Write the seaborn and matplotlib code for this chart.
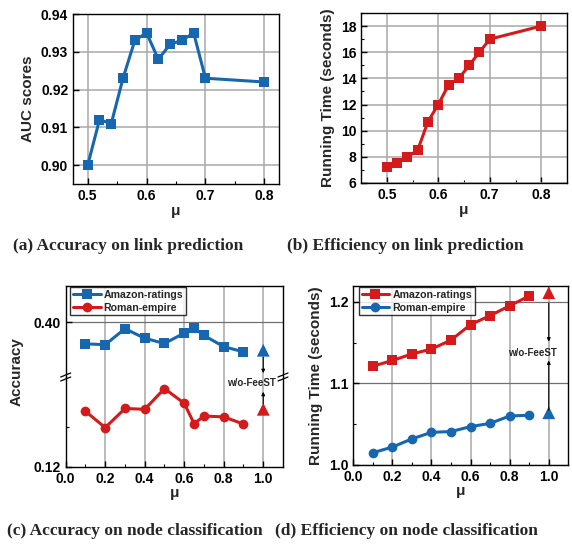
import matplotlib
matplotlib.use("Agg")
import matplotlib.pyplot as plt
from matplotlib.ticker import FixedLocator, MultipleLocator
from matplotlib.lines import Line2D
import seaborn as sns

# ---------------- data ----------------
mu_link = [0.50, 0.52, 0.54, 0.56, 0.58, 0.60, 0.62, 0.64, 0.66, 0.68, 0.70, 0.80]
auc_link = [0.900, 0.912, 0.911, 0.923, 0.933, 0.935, 0.928, 0.932, 0.933, 0.935, 0.923, 0.922]
time_link = [7.2, 7.5, 8.0, 8.5, 10.7, 12.0, 13.5, 14.0, 15.0, 16.0, 17.0, 18.0]

mu_acc = [0.1, 0.2, 0.3, 0.4, 0.5, 0.6, 0.65, 0.7, 0.8, 0.9]
acc_amazon = [0.3946, 0.3944, 0.3984, 0.3960, 0.3947, 0.3973, 0.3986, 0.3967, 0.3939, 0.3926]
acc_roman = [0.1339, 0.1298, 0.1346, 0.1344, 0.1396, 0.1359, 0.1308, 0.1327, 0.1325, 0.1307]
acc_amazon_wo = 0.3930
acc_roman_wo = 0.1344

mu_time = [0.1, 0.2, 0.3, 0.4, 0.5, 0.6, 0.7, 0.8, 0.9]
time_amazon = [1.121, 1.128, 1.136, 1.142, 1.153, 1.172, 1.183, 1.195, 1.207]
time_roman = [1.015, 1.022, 1.032, 1.040, 1.041, 1.047, 1.051, 1.060, 1.061]
time_amazon_wo = 1.211
time_roman_wo = 1.064
mu_wo = 1.0

series_names = ["Amazon-ratings", "Roman-empire"]
captions = ["(a) Accuracy on link prediction", "(b) Efficiency on link prediction",
            "(c) Accuracy on node classification", "(d) Efficiency on node classification"]

BLUE = "#1767B0"
RED = "#D41A1A"

sns.set_theme(style="ticks")
plt.rcParams["font.family"] = ["Liberation Sans", "DejaVu Sans"]
plt.rcParams["font.weight"] = "bold"
plt.rcParams["axes.labelweight"] = "bold"
plt.rcParams["axes.linewidth"] = 1.0
plt.rcParams["axes.edgecolor"] = "black"

W, H = 572, 548
fig = plt.figure(figsize=(W / 100, H / 100), dpi=100)


def rect(l, t, r, b):
    return [l / W, 1 - b / H, (r - l) / W, (b - t) / H]


def style_ax(ax, gridy=True):
    ax.tick_params(axis="both", which="both", direction="in", labelsize=10,
                   top=False, right=False, colors="black")
    ax.tick_params(which="major", length=4, width=1)
    ax.tick_params(which="minor", length=2.5, width=0.8)
    for lab in ax.get_xticklabels() + ax.get_yticklabels():
        lab.set_fontweight("bold")
    ax.grid(True, axis="x", which="major", color="#a8a8a8", lw=1.1)
    if gridy:
        ax.grid(True, axis="y", which="major", color="#a8a8a8", lw=1.1)
    ax.set_axisbelow(True)
    for s in ax.spines.values():
        s.set_color("black")
        s.set_linewidth(1.0)


line_kw = dict(linewidth=2.2, markersize=7, markeredgewidth=0)
leg_kw = dict(frameon=True, fancybox=False, edgecolor="black",
              prop={"weight": "bold", "size": 7.6}, borderpad=0.25,
              labelspacing=0.25, handlelength=2.6, handletextpad=0.3,
              borderaxespad=0.0)
arrow_kw = dict(arrowstyle="-|>", color="black", lw=0.8, mutation_scale=5,
                shrinkA=0, shrinkB=0)

# ---------------- (a) ----------------
ax_a = fig.add_axes(rect(73, 14, 279, 184))
sns.lineplot(x=mu_link, y=auc_link, marker="s", color=BLUE, ax=ax_a, **line_kw)
ax_a.set_xlim(0.475, 0.825)
ax_a.set_ylim(0.895, 0.94)
ax_a.xaxis.set_major_locator(FixedLocator([0.5, 0.6, 0.7, 0.8]))
ax_a.xaxis.set_minor_locator(FixedLocator([0.55, 0.65, 0.75]))
ax_a.yaxis.set_major_locator(FixedLocator([0.90, 0.91, 0.92, 0.93, 0.94]))
ax_a.set_yticklabels(["0.90", "0.91", "0.92", "0.93", "0.94"])
ax_a.set_xlabel("μ", fontsize=11, fontweight="bold", labelpad=1)
ax_a.set_ylabel("AUC scores", fontsize=11, fontweight="bold")
style_ax(ax_a)

# ---------------- (b) ----------------
ax_b = fig.add_axes(rect(361, 13, 567, 183))
sns.lineplot(x=mu_link, y=time_link, marker="s", color=RED, ax=ax_b, **line_kw)
ax_b.set_xlim(0.45, 0.85)
ax_b.set_ylim(6, 19)
ax_b.xaxis.set_major_locator(FixedLocator([0.5, 0.6, 0.7, 0.8]))
ax_b.xaxis.set_minor_locator(FixedLocator([0.55, 0.65, 0.75]))
ax_b.yaxis.set_major_locator(MultipleLocator(2))
ax_b.yaxis.set_minor_locator(MultipleLocator(1))
ax_b.set_xlabel("μ", fontsize=11, fontweight="bold", labelpad=1)
ax_b.set_ylabel("Running Time (seconds)", fontsize=11, fontweight="bold")
style_ax(ax_b)

# ---------------- (c) broken axis ----------------
ax_ct = fig.add_axes(rect(65.7, 286, 283, 377))
ax_cb = fig.add_axes(rect(65.7, 377, 283, 466.7), sharex=ax_ct)
sns.lineplot(x=mu_acc, y=acc_amazon, marker="s", color=BLUE, ax=ax_ct,
             label=series_names[0], **line_kw)
sns.lineplot(x=mu_acc, y=acc_roman, marker="o", color=RED, ax=ax_cb,
             label=series_names[1], **line_kw)
sns.scatterplot(x=[mu_wo], y=[acc_amazon_wo], marker="^", s=85, color=BLUE,
                edgecolor="none", ax=ax_ct, legend=False)
sns.scatterplot(x=[mu_wo], y=[acc_roman_wo], marker="^", s=85, color=RED,
                edgecolor="none", ax=ax_cb, legend=False)
ax_ct.set_xlim(0, 1.1)
ax_ct.set_ylim(0.3863, 0.4091)
ax_cb.set_ylim(0.12, 0.1425)
ax_ct.yaxis.set_major_locator(FixedLocator([0.40]))
ax_ct.set_yticklabels(["0.40"])
ax_cb.yaxis.set_major_locator(FixedLocator([0.12]))
ax_cb.set_yticklabels(["0.12"])
ax_cb.yaxis.set_minor_locator(FixedLocator([0.13]))
ax_cb.xaxis.set_major_locator(FixedLocator([0.0, 0.2, 0.4, 0.6, 0.8, 1.0]))
ax_cb.xaxis.set_minor_locator(FixedLocator([0.1, 0.3, 0.5, 0.7, 0.9]))
ax_cb.set_xticklabels(["0.0", "0.2", "0.4", "0.6", "0.8", "1.0"])
ax_cb.set_xlabel("μ", fontsize=11, fontweight="bold", labelpad=0)
ax_ct.set_ylabel("")
ax_cb.set_ylabel("")
style_ax(ax_ct)
style_ax(ax_cb, gridy=False)
ax_ct.grid(True, axis="y", which="major", color="#707070", lw=0.9)
ax_ct.tick_params(axis="x", which="both", bottom=False, labelbottom=False)
ax_ct.spines["bottom"].set_visible(False)
ax_cb.spines["top"].set_visible(False)
fig.text(17 / W, 1 - 372 / H, "Accuracy", rotation=90, ha="center", va="center",
         fontsize=11, fontweight="bold")

# break marks on both spines
for xpix in (65.7, 283):
    for off in (-2.0, 2.0):
        yc = 377 + off
        fig.add_artist(Line2D([(xpix - 5) / W, (xpix + 5) / W],
                              [1 - (yc + 2) / H, 1 - (yc - 2) / H],
                              color="black", lw=0.9))

h1, l1 = ax_ct.get_legend_handles_labels()
h2, l2 = ax_cb.get_legend_handles_labels()
if ax_cb.get_legend():
    ax_cb.get_legend().remove()
leg = ax_ct.legend(h1 + h2, l1 + l2, loc="upper left", bbox_to_anchor=(0.022, 0.985),
                   **leg_kw)
leg.get_frame().set_linewidth(1.0)

ax_cb.text(0.938, 0.141, "w/o-FeeST", ha="center", va="center", fontsize=7,
           fontweight="bold", clip_on=False, zorder=5)
ax_ct.annotate("", xy=(1.0, 0.38725), xytext=(1.0, 0.39125),
               arrowprops=arrow_kw, annotation_clip=False)
ax_cb.annotate("", xy=(1.0, 0.1388), xytext=(1.0, 0.1358),
               arrowprops=arrow_kw, annotation_clip=False)

# ---------------- (d) ----------------
ax_d = fig.add_axes(rect(353.3, 285.7, 568.3, 465))
sns.lineplot(x=mu_time, y=time_amazon, marker="s", color=RED, ax=ax_d,
             label=series_names[0], **line_kw)
sns.lineplot(x=mu_time, y=time_roman, marker="o", color=BLUE, ax=ax_d,
             label=series_names[1], **line_kw)
sns.scatterplot(x=[mu_wo], y=[time_amazon_wo], marker="^", s=85, color=RED,
                edgecolor="none", ax=ax_d, legend=False)
sns.scatterplot(x=[mu_wo], y=[time_roman_wo], marker="^", s=85, color=BLUE,
                edgecolor="none", ax=ax_d, legend=False)
ax_d.set_xlim(0, 1.1)
ax_d.set_ylim(1.0, 1.2196)
ax_d.xaxis.set_major_locator(FixedLocator([0.0, 0.2, 0.4, 0.6, 0.8, 1.0]))
ax_d.xaxis.set_minor_locator(FixedLocator([0.1, 0.3, 0.5, 0.7, 0.9]))
ax_d.set_xticklabels(["0.0", "0.2", "0.4", "0.6", "0.8", "1.0"])
ax_d.yaxis.set_major_locator(FixedLocator([1.0, 1.1, 1.2]))
ax_d.set_yticklabels(["1.0", "1.1", "1.2"])
ax_d.yaxis.set_minor_locator(FixedLocator([1.05, 1.15]))
ax_d.set_xlabel("μ", fontsize=11, fontweight="bold", labelpad=0)
ax_d.set_ylabel("Running Time (seconds)", fontsize=11, fontweight="bold")
style_ax(ax_d, gridy=False)
ax_d.grid(True, axis="y", which="major", color="#707070", lw=0.9)
leg = ax_d.legend(loc="upper left", bbox_to_anchor=(0.027, 0.99), **leg_kw)
leg.get_frame().set_linewidth(1.0)
ax_d.text(0.919, 1.137, "w/o-FeeST", ha="center", va="center", fontsize=7,
          fontweight="bold", zorder=5)
ax_d.annotate("", xy=(1.0, 1.151), xytext=(1.0, 1.198), arrowprops=arrow_kw)
ax_d.annotate("", xy=(1.0, 1.128), xytext=(1.0, 1.067), arrowprops=arrow_kw)

# ---------------- captions ----------------
cap_kw = dict(fontsize=12.5, fontweight="bold", family=["Liberation Serif", "DejaVu Serif"],
              va="center", ha="left")
fig.text(13 / W, 1 - 246 / H, captions[0], **cap_kw)
fig.text(287 / W, 1 - 246 / H, captions[1], **cap_kw)
fig.text(7 / W, 1 - 531 / H, captions[2], **cap_kw)
fig.text(275 / W, 1 - 531 / H, captions[3], **cap_kw)

fig.savefig("out.png", dpi=100)
